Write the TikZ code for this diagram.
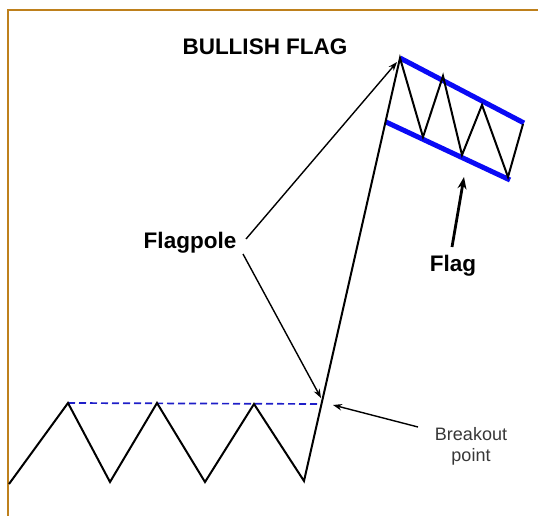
\documentclass[tikz,border=0pt]{standalone}
\usepackage{fontspec}
\setmainfont{Liberation Sans}
\usetikzlibrary{arrows.meta}
\definecolor{framecol}{RGB}{190,128,28}
\definecolor{flagblue}{RGB}{10,10,245}
\definecolor{dashblue}{RGB}{30,30,200}
\definecolor{txtgray}{RGB}{55,55,55}
\tikzset{
  price/.style={line width=2pt, black, line join=miter},
  chan/.style={line width=5pt, flagblue},
  callout/.style={line width=1.4pt, -{Stealth[length=9pt,width=6.5pt]}},
  bigcallout/.style={line width=2.8pt, -{Stealth[length=12pt,width=9pt]}},
  bold/.style={font=\fontsize{22.5}{26}\selectfont\bfseries, inner sep=0pt},
  plain/.style={font=\fontsize{18}{21}\selectfont, text=txtgray, align=center, inner sep=0pt},
}
\begin{document}
\begin{tikzpicture}[x=1pt,y=-1pt]
\useasboundingbox (0,0) rectangle (538,516);
\fill[white] (0,0) rectangle (538,516);
% frame
\draw[framecol, line width=2.6pt] (8,516) -- (8,10) -- (538,10);
% points
\coordinate (s) at (9,484);
\coordinate (p1) at (68,403);
\coordinate (t1) at (110,482);
\coordinate (p2) at (157,403);
\coordinate (t2) at (205,482);
\coordinate (p3) at (254,404);
\coordinate (t3) at (304,481);
\coordinate (top) at (400,58);
\coordinate (f1) at (423,137);
\coordinate (f2) at (443,76);
\coordinate (f3) at (462,155);
\coordinate (f4) at (482,105);
\coordinate (f5) at (508,177);
\coordinate (f6) at (523,124);
\coordinate (ua) at (400,58);
\coordinate (ub) at (524,123);
\coordinate (la) at (386,122);
\coordinate (lb) at (510,180);
\coordinate (de) at (321,404);
% blue channel
\draw[chan] (ua) -- (ub);
\draw[chan] (la) -- (lb);
% dashed resistance
\draw[dashblue, line width=1.7pt, dash pattern=on 7pt off 4pt] (p1) -- (de);
% price path
\draw[price] (s) -- (p1) -- (t1) -- (p2) -- (t2) -- (p3) -- (t3) -- (top)
  -- (f1) -- (f2) -- (f3) -- (f4) -- (f5) -- (f6);
% labels
\node[bold] (title) at (265,47) {BULLISH FLAG};
\node[bold] (fp) at (190,243) {Flagpole};
\node[bold] (flag) at (453,266) {Flag};
\node[plain] (bo) at (471,446) {Breakout\\point};
% callouts
\coordinate (fpa) at (246,239);
\coordinate (fpb) at (243,254);
\coordinate (fpta) at (397,62);
\coordinate (fptb) at (321,398);
\draw[callout] (fpa) -- (fpta);
\draw[callout] (fpb) -- (fptb);
\coordinate (flt) at (452,247);
\coordinate (flh) at (464,177);
\draw[bigcallout] (flt) -- (flh);
\coordinate (bot) at (418,427);
\coordinate (boh) at (333,405);
\draw[callout] (bot) -- (boh);
\end{tikzpicture}
\end{document}
